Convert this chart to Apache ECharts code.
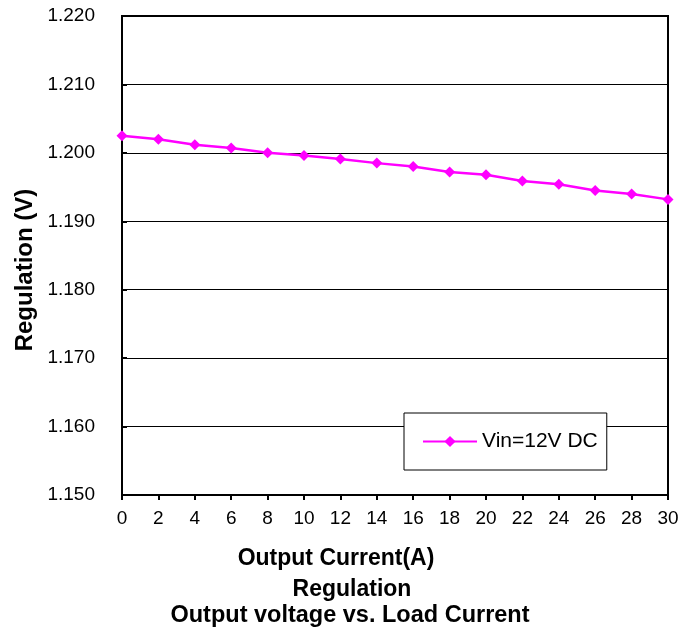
<!DOCTYPE html>
<html><head><meta charset="utf-8">
<script src="https://cdn.jsdelivr.net/npm/echarts@6/dist/echarts.min.js"></script>
<style>html,body{margin:0;padding:0;background:#fff}#c{width:694px;height:633px}</style>
</head><body><div id="c"></div>
<script>
const current = [0, 2, 4, 6, 8, 10, 12, 14, 16, 18, 20, 22, 24, 26, 28, 30];
const vin12 = [1.2025, 1.2020, 1.2012, 1.2007, 1.2000, 1.1996, 1.1991, 1.1985, 1.1980, 1.1972, 1.1968, 1.1959, 1.1954, 1.1945, 1.1940, 1.1932];
const seriesName = 'Vin=12V DC';
const yTitle = 'Regulation (V)';
const xTitle = 'Output Current(A)';
const subTitle1 = 'Regulation';
const subTitle2 = 'Output voltage vs. Load Current';

const FONT = '"Liberation Sans", Arial, sans-serif';
const chart = echarts.init(document.getElementById('c'), null, {renderer: 'canvas'});
chart.setOption({
  animation: false,
  backgroundColor: '#fff',
  grid: {left: 122, top: 16, right: 26, bottom: 138, show: true, borderColor: '#000', borderWidth: 2, backgroundColor: 'transparent'},
  xAxis: {
    type: 'value', min: 0, max: 30, interval: 2,
    axisLine: {show: true, lineStyle: {color: '#000', width: 2}},
    axisTick: {show: true, inside: false, length: 5, lineStyle: {color: '#000', width: 2}},
    axisLabel: {color: '#000', fontFamily: FONT, fontSize: 19, margin: 14},
    splitLine: {show: false}
  },
  yAxis: {
    type: 'value', min: 1.15, max: 1.22, interval: 0.01,
    axisLine: {show: true, lineStyle: {color: '#000', width: 2}},
    axisTick: {show: true, inside: true, length: 5, lineStyle: {color: '#000', width: 2}},
    axisLabel: {color: '#000', fontFamily: FONT, fontSize: 19, margin: 27, formatter: v => v.toFixed(3)},
    splitLine: {show: true, lineStyle: {color: '#000', width: 1}}
  },
  legend: {
    left: 404, top: 413,
    data: [seriesName],
    backgroundColor: '#fff', borderColor: '#000', borderWidth: 1,
    padding: [18, 9, 18, 18],
    itemWidth: 54, itemHeight: 14, itemGap: 4,
    textStyle: {color: '#000', fontFamily: FONT, fontSize: 21}
  },
  series: [{
    name: seriesName, type: 'line',
    data: current.map((x, i) => [x, vin12[i]]),
    symbol: 'diamond', symbolSize: 11,
    lineStyle: {color: '#FF00FF', width: 2.5},
    itemStyle: {color: '#FF00FF'},
    z: 5
  }],
  graphic: [
    {type: 'text', x: 25, y: 270, rotation: Math.PI / 2, style: {text: yTitle, x: 0, y: 0, font: 'bold 24px ' + FONT, fill: '#000', align: 'center', verticalAlign: 'middle'}},
    {type: 'text', style: {text: xTitle, x: 336, y: 559, font: 'bold 23px ' + FONT, fill: '#000', align: 'center', verticalAlign: 'middle'}},
    {type: 'text', style: {text: subTitle1, x: 352, y: 590, font: 'bold 23px ' + FONT, fill: '#000', align: 'center', verticalAlign: 'middle'}},
    {type: 'text', style: {text: subTitle2, x: 350, y: 616, font: 'bold 23.5px ' + FONT, fill: '#000', align: 'center', verticalAlign: 'middle'}}
  ]
});
</script></body></html>
